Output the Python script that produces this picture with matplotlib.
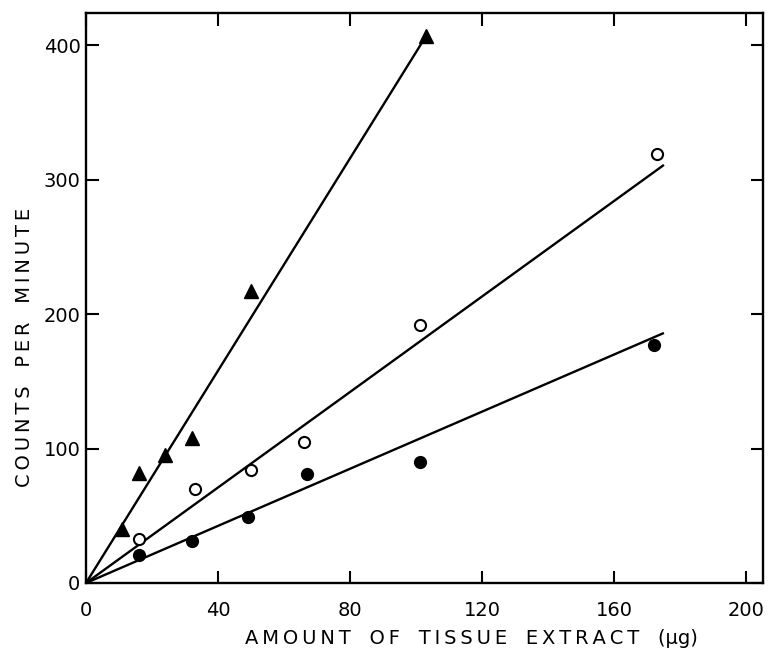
import matplotlib
matplotlib.use('Agg')
import matplotlib.pyplot as plt

# Datos
tri_x = [11, 16, 24, 32, 50, 103]
tri_y = [40, 82, 95, 108, 217, 407]
open_x = [16, 33, 50, 66, 101, 173]
open_y = [33, 70, 84, 105, 192, 319]
fill_x = [16, 32, 49, 67, 101, 172]
fill_y = [21, 31, 49, 81, 90, 177]

# Rectas ajustadas (desde el origen hasta el extremo)
line_x = [[0, 102], [0, 175], [0, 175]]
line_y = [[0, 403], [0, 311], [0, 186]]

x_ticks = [0, 40, 80, 120, 160, 200]
y_ticks = [0, 100, 200, 300, 400]


def spaced(text, gap='   '):
    # espaciado ancho entre letras como en el original
    words = text.split(' ')
    return gap.join('\u2009'.join(w) for w in words)


plt.rcParams['font.family'] = ['DejaVu Sans']

fig = plt.figure(figsize=(7.68, 6.56), dpi=100)
ax = fig.add_axes([86 / 768, 1 - 583 / 656, (763 - 86) / 768, (583 - 13) / 656])

for lx, ly in zip(line_x, line_y):
    ax.plot(lx, ly, color='black', lw=1.7, solid_capstyle='butt')

ax.plot(tri_x, tri_y, '^', color='black', markersize=10, ls='none')
ax.plot(open_x, open_y, 'o', mfc='white', mec='black', mew=1.5, markersize=8, ls='none')
ax.plot(fill_x, fill_y, 'o', color='black', markersize=8.5, ls='none')

ax.set_xlim(0, 205)
ax.set_ylim(0, 424)
ax.set_xticks(x_ticks)
ax.set_yticks(y_ticks)
ax.tick_params(direction='in', length=9, width=1.5, labelsize=14,
               top=True, right=True)
ax.tick_params(axis='x', pad=13)
ax.tick_params(axis='y', pad=4)
for s in ax.spines.values():
    s.set_linewidth(1.7)

fig.text(471 / 768, 1 - 638 / 656, spaced('AMOUNT OF TISSUE EXTRACT') + '   (µg)',
         ha='center', va='center', fontsize=14)
fig.text(25 / 768, 1 - 347 / 656, spaced('COUNTS PER MINUTE'),
         ha='center', va='center', fontsize=14, rotation=90)

plt.savefig('out.png', dpi=100)
